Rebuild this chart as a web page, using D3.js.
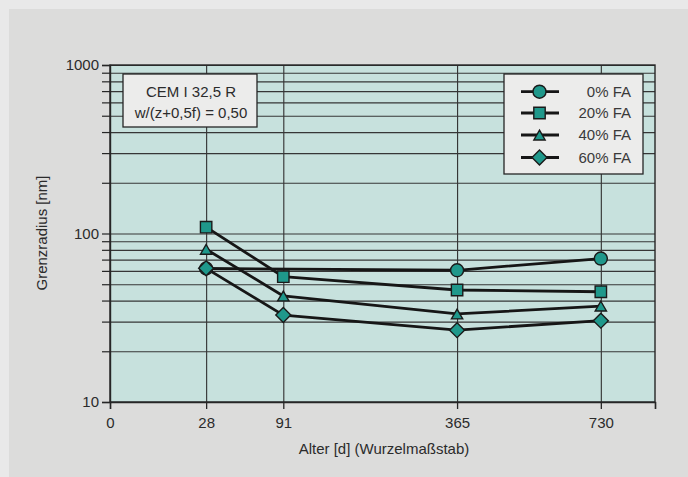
<!DOCTYPE html>
<html>
<head>
<meta charset="utf-8">
<script src="https://cdn.jsdelivr.net/npm/d3@7"></script>
<style>
  html, body { margin: 0; padding: 0; background: #e9e9e9; }
  svg { display: block; font-family: "Liberation Sans", Arial, Helvetica, sans-serif; }
</style>
</head>
<body>
<svg id="chart" width="688" height="477"></svg>
<script>
// Age in days (square-root scale) and threshold radius in nm (log scale)
const ages = [28, 91, 365, 730];
const xTickValues = [0, 28, 91, 365, 730];
const yLabelValues = [10, 100, 1000];
const seriesNames = ["0% FA", "20% FA", "40% FA", "60% FA"];
const fa0 = [62, null, 60.5, 71];
const fa20 = [109, 55.4, 46.2, 45.1];
const fa40 = [80.6, 42.6, 33.3, 37.1];
const fa60 = [62.1, 32.8, 26.7, 30.4];
const boxLines = ["CEM I 32,5 R", "w/(z+0,5f) = 0,50"];

const seriesValues = [fa0, fa20, fa40, fa60];
// marker shapes: circle, square, triangle, square turned 45° (diamond)
const symbols = [d3.symbolCircle, d3.symbolSquare, d3.symbolTriangle, d3.symbolSquare];
const symbolSizes = [133, 130, 55, 112];
const symbolRotate = [0, 0, 0, 45];
const symbolShiftY = [0, 0, 1.7, 0];

const svg = d3.select("#chart");
const W = 688, H = 477;
const plot = { left: 110, right: 655, top: 65, bottom: 402 };
const fontFamily = "'Liberation Sans', Arial, sans-serif";
const textColor = "#2b2b2b";

// page background
svg.append("rect").attr("width", W).attr("height", H).attr("fill", "#e9e9e9");
svg.append("rect").attr("x", 9).attr("y", 9).attr("width", W - 9).attr("height", H - 9).attr("fill", "#dcdcdb");

const x = d3.scaleSqrt().domain([0, 900]).range([plot.left, plot.right]);
const y = d3.scaleLog().domain([10, 1000]).range([plot.bottom, plot.top]);

const yAll = y.ticks(); // 10,20,...,100,200,...,1000

// plot area
svg.append("rect").attr("x", plot.left).attr("y", plot.top)
  .attr("width", plot.right - plot.left).attr("height", plot.bottom - plot.top)
  .attr("fill", "#c7e1dd");

const ink = "#262626";

// horizontal grid
svg.append("g")
  .attr("transform", `translate(${plot.left},0)`)
  .call(d3.axisLeft(y).tickValues(yAll).tickSize(-(plot.right - plot.left)).tickFormat(""))
  .call(g => g.select(".domain").remove())
  .call(g => g.selectAll("line").attr("stroke", "#363636").attr("stroke-width", 1.15));

// vertical grid
svg.append("g")
  .attr("transform", `translate(0,${plot.top})`)
  .call(d3.axisBottom(x).tickValues(ages).tickSize(plot.bottom - plot.top).tickFormat(""))
  .call(g => g.select(".domain").remove())
  .call(g => g.selectAll("line").attr("stroke", "#363636").attr("stroke-width", 1.15));

// frame
svg.append("rect").attr("x", plot.left).attr("y", plot.top)
  .attr("width", plot.right - plot.left).attr("height", plot.bottom - plot.top)
  .attr("fill", "none").attr("stroke", ink).attr("stroke-width", 1.4);

// y axis
svg.append("g")
  .attr("transform", `translate(${plot.left},0)`)
  .call(d3.axisLeft(y).tickValues(yAll).tickSize(8).tickPadding(3)
    .tickFormat(d => yLabelValues.includes(d) ? d : ""))
  .call(g => g.select(".domain").attr("stroke", ink).attr("stroke-width", 1.4))
  .call(g => g.selectAll("line").attr("stroke", ink).attr("stroke-width", 1.2))
  .call(g => g.selectAll("text").attr("font-size", 15).attr("fill", textColor)
    .attr("font-family", fontFamily));

// x axis
svg.append("g")
  .attr("transform", `translate(0,${plot.bottom})`)
  .call(d3.axisBottom(x).tickValues(xTickValues.concat([900])).tickSize(7).tickPadding(8)
    .tickFormat(d => xTickValues.includes(d) ? d : ""))
  .call(g => g.select(".domain").attr("stroke", ink).attr("stroke-width", 1.4))
  .call(g => g.selectAll("line").attr("stroke", ink).attr("stroke-width", 1.3))
  .call(g => g.selectAll("text").attr("font-size", 15).attr("fill", textColor)
    .attr("font-family", fontFamily));

// axis titles
svg.append("text")
  .attr("transform", `translate(47,233) rotate(-90)`)
  .attr("text-anchor", "middle").attr("font-size", 15).attr("fill", textColor)
  .text("Grenzradius [nm]");
svg.append("text")
  .attr("x", 384).attr("y", 454)
  .attr("text-anchor", "middle").attr("font-size", 15).attr("fill", textColor)
  .text("Alter [d] (Wurzelmaßstab)");

// series lines and markers
const line = d3.line().x(d => x(d.a)).y(d => y(d.v));
const markerFill = "#1f988b";

function marker(sel, i) {
  sel.attr("d", d3.symbol().type(symbols[i]).size(symbolSizes[i]))
    .attr("fill", markerFill).attr("stroke", "#1a1a1a").attr("stroke-width", 1.4);
}

seriesValues.forEach(vals => {
  const valid = ages.map((a, j) => ({ a, v: vals[j] })).filter(d => d.v != null);
  svg.append("path").datum(valid)
    .attr("d", line).attr("fill", "none")
    .attr("stroke", "#161616").attr("stroke-width", 2.8).attr("stroke-linejoin", "round");
});
seriesValues.forEach((vals, i) => {
  const pts = ages.map((a, j) => ({ a, v: vals[j] })).filter(d => d.v != null);
  svg.append("g").selectAll("path").data(pts).join("path")
    .attr("transform", d => `translate(${x(d.a)},${y(d.v) + symbolShiftY[i]}) rotate(${symbolRotate[i]})`)
    .call(marker, i);
});

// specification box
const bx = 123, by = 74, bw = 134, bh = 53;
svg.append("rect").attr("x", bx).attr("y", by).attr("width", bw).attr("height", bh)
  .attr("fill", "#ececeb").attr("stroke", ink).attr("stroke-width", 1.3);
svg.append("g").selectAll("text").data(boxLines).join("text")
  .attr("x", bx + bw / 2 + 1).attr("y", (d, i) => [96.5, 117.5][i])
  .attr("text-anchor", "middle").attr("font-size", 15).attr("fill", textColor)
  .text(d => d);

// legend
const lx = 504, ly = 74, lw = 139, lh = 100;
svg.append("rect").attr("x", lx).attr("y", ly).attr("width", lw).attr("height", lh)
  .attr("fill", "#ececeb").attr("stroke", ink).attr("stroke-width", 1.3);
const rowY = [91.7, 113, 135, 157.5];
seriesNames.forEach((name, i) => {
  svg.append("line").attr("x1", 521).attr("x2", 559)
    .attr("y1", rowY[i]).attr("y2", rowY[i])
    .attr("stroke", "#161616").attr("stroke-width", 2.8);
  svg.append("path")
    .attr("transform", `translate(539.5,${rowY[i] + symbolShiftY[i]}) rotate(${symbolRotate[i]})`)
    .call(marker, i);
  svg.append("text").attr("x", 631).attr("y", rowY[i] + 5.3)
    .attr("text-anchor", "end").attr("font-size", 15).attr("fill", "#3a3a3a")
    .text(name);
});
</script>
</body>
</html>
